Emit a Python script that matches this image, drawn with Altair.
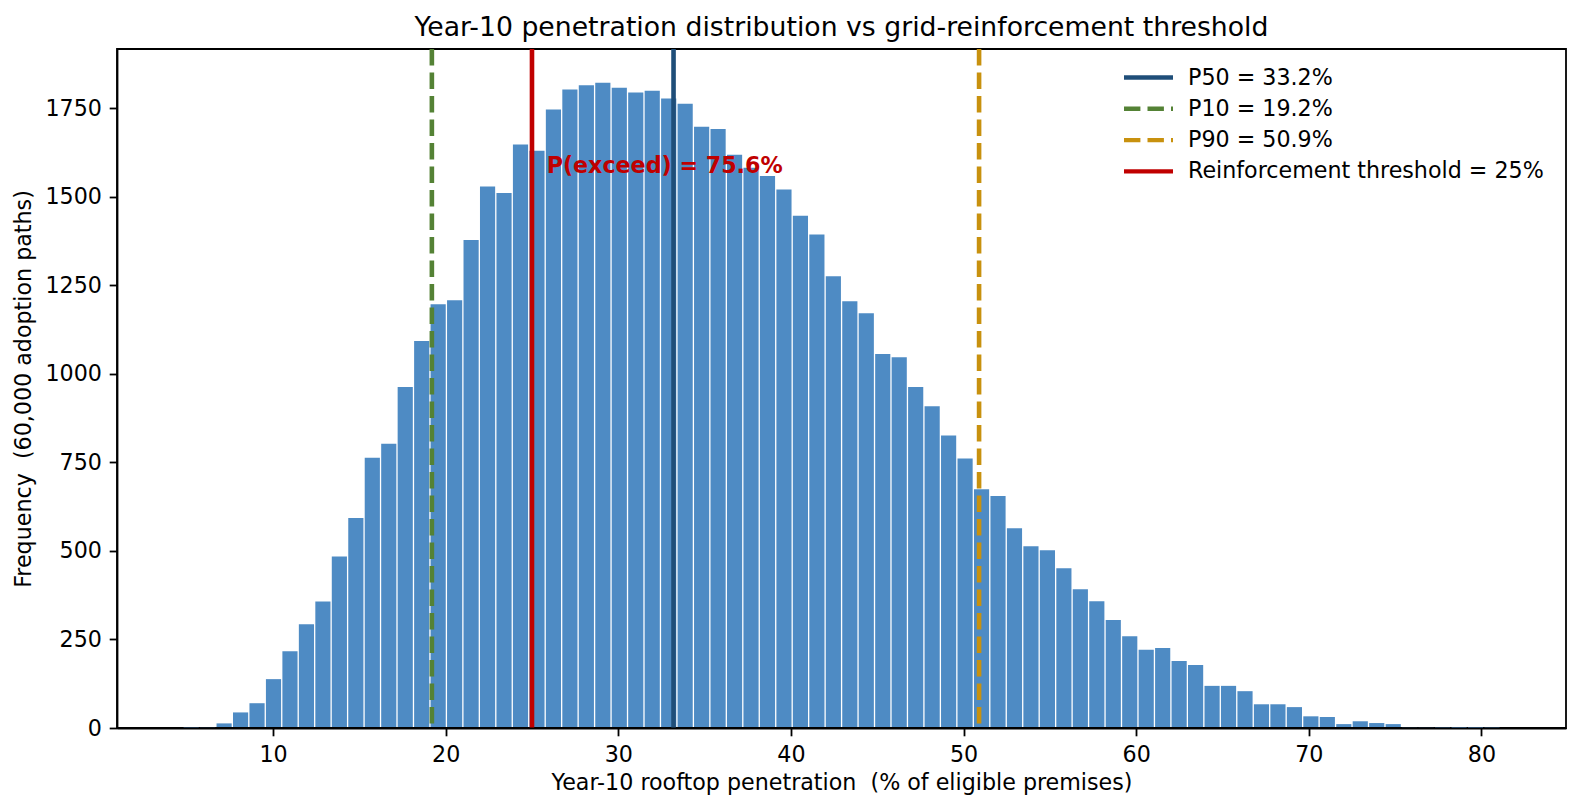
import altair as alt
import numpy as np
import pandas as pd

# ---- data ----
BIN_START = 4.78
BIN_END = 81.09
N_BINS = 80
counts = [1, 2, 13, 44, 70, 138, 217, 293, 357, 484, 593, 763, 803, 963, 1093, 1197, 1208, 1378, 1529, 1511,
          1648, 1630, 1747, 1803, 1815, 1822, 1808, 1795, 1800, 1778, 1763, 1698, 1692, 1619, 1582, 1559, 1521, 1447, 1394, 1276,
          1205, 1171, 1056, 1047, 963, 909, 826, 761, 674, 655, 564, 513, 502, 451, 392, 358, 305, 259, 221, 226,
          189, 178, 119, 119, 104, 67, 67, 59, 33, 31, 11, 19, 14, 11, 2, 2, 1, 0, 0, 1]

line_labels = ["P50 = 33.2%", "P10 = 19.2%", "P90 = 50.9%", "Reinforcement threshold = 25%"]
line_values = [33.2, 19.2, 50.9, 25.0]
line_colors = ["#1f4e79", "#548235", "#c8910e", "#c00000"]
line_dashes = [[1, 0], [16.4, 7.1], [16.4, 7.1], [1, 0]]

annot_text = ["P(exceed) = 75.6%"]
annot_x = [25.85]
annot_y = [1567]

X_DOMAIN = [0.96, 84.9]
Y_DOMAIN = [0, 1917.6]
x_ticks = [10, 20, 30, 40, 50, 60, 70, 80]
y_ticks = [0, 250, 500, 750, 1000, 1250, 1500, 1750]

edges = np.linspace(BIN_START, BIN_END, N_BINS + 1)
hist = pd.DataFrame({"start": edges[:-1], "end": edges[1:], "count": counts})
lines = pd.DataFrame({"value": line_values, "label": line_labels})
annot = pd.DataFrame({"x": annot_x, "y": annot_y, "text": annot_text})

FONT = "DejaVu Sans"
FS = 22.2

x_axis = alt.Axis(values=x_ticks, format="d", zindex=2,
                  title="Year-10 rooftop penetration \u00a0(% of eligible premises)", titlePadding=6)
y_axis = alt.Axis(values=y_ticks, format="d", zindex=2,
                  title="Frequency \u00a0(60,000 adoption paths)", titlePadding=9)

bars = alt.Chart(hist).mark_rect(color="#4e8bc4", strokeWidth=0, opacity=1,
                                 xOffset=0.65, x2Offset=-0.65, y2Offset=-1).encode(
    x=alt.X("start:Q", scale=alt.Scale(domain=X_DOMAIN, nice=False, zero=False), axis=x_axis),
    x2="end:Q",
    y=alt.Y("count:Q", scale=alt.Scale(domain=Y_DOMAIN, nice=False), axis=y_axis),
    y2=alt.datum(0),
)

legend = alt.Legend(title=None, orient="none", legendX=1017, legendY=14, symbolType="M-2,0H2",
                    symbolSize=600, symbolStrokeWidth=4.4, labelFontSize=FS, labelFont=FONT,
                    labelColor="black", rowPadding=5.3, labelOffset=25, labelLimit=600)

rules = alt.Chart(lines).mark_rule(strokeWidth=4.6).encode(
    x="value:Q",
    color=alt.Color("label:N", scale=alt.Scale(domain=line_labels, range=line_colors), legend=legend,
                    sort=line_labels),
    strokeDash=alt.StrokeDash("label:N", scale=alt.Scale(domain=line_labels, range=line_dashes), legend=legend,
                              sort=line_labels),
)

text = alt.Chart(annot).mark_text(align="left", baseline="alphabetic", font=FONT, fontSize=FS,
                                  fontWeight="bold", color="#c00000").encode(
    x="x:Q", y="y:Q", text="text:N")

chart = alt.layer(bars, rules, text).properties(
    width=1449,
    height=679,
    title=alt.Title("Year-10 penetration distribution vs grid-reinforcement threshold",
                    fontSize=26.7, font=FONT, fontWeight="normal", anchor="middle", frame="group",
                    baseline="alphabetic", offset=13, dy=29, color="black"),
    padding={"left": 109, "top": 41, "right": 5, "bottom": 76},
    autosize="none",
).configure_view(stroke="black", strokeWidth=1.8).configure_axis(
    labelFont=FONT, titleFont=FONT, labelFontSize=FS, titleFontSize=FS, labelColor="black",
    titleColor="black", titleFontWeight="normal", tickSize=7.8, tickWidth=1.8, tickColor="black",
    domainColor="black", domainWidth=1.8, labelPadding=7.8, grid=False,
)

chart.save("out.html", embed_options={"renderer": "svg", "actions": False})
